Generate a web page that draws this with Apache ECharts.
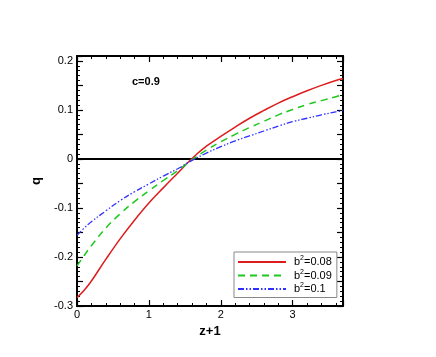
<!DOCTYPE html>
<html>
<head>
<meta charset="utf-8">
<script src="https://cdn.jsdelivr.net/npm/echarts@6/dist/echarts.min.js"></script>
<style>
  html, body { margin: 0; padding: 0; background: #fff; }
  #chart { width: 436px; height: 357px; }
</style>
</head>
<body>
<div id="chart"></div>
<script>
// x values (z+1)
const zValues = [0, 0.1, 0.2, 0.4, 0.6, 0.8, 1.0, 1.2, 1.4, 1.6, 1.8, 2.0, 2.2, 2.4, 2.6, 2.8, 3.0, 3.2, 3.4, 3.6, 3.7];
// q for b^2 = 0.08
const qB008 = [-0.283, -0.268, -0.249, -0.205, -0.163, -0.125, -0.090, -0.059, -0.029, 0.001, 0.026, 0.046, 0.065, 0.083, 0.099, 0.114, 0.127, 0.139, 0.150, 0.160, 0.164];
// q for b^2 = 0.09
const qB009 = [-0.218, -0.197, -0.177, -0.141, -0.112, -0.087, -0.065, -0.044, -0.024, -0.002, 0.018, 0.035, 0.050, 0.064, 0.077, 0.090, 0.101, 0.111, 0.119, 0.127, 0.131];
// q for b^2 = 0.1
const qB010 = [-0.156, -0.141, -0.128, -0.106, -0.085, -0.067, -0.051, -0.035, -0.020, -0.003, 0.012, 0.025, 0.037, 0.047, 0.057, 0.067, 0.076, 0.083, 0.090, 0.096, 0.099];
const seriesNames = ['0.08', '0.09', '0.1'];
const zeroLevel = 0;
const annotation = 'c=0.9';

const font = "'Liberation Sans', Arial, sans-serif";
const pair = (ys) => zValues.map((x, i) => [x, ys[i]]);

const chart = echarts.init(document.getElementById('chart'));

// ticks point into the plot
const mkAxis = (extra) => Object.assign({
  type: 'value',
  axisLine: { show: true, onZero: false, lineStyle: { color: '#000', width: 2 } },
  axisTick: { show: true, inside: true, length: 6, lineStyle: { color: '#000', width: 1.2 } },
  minorTick: { show: true, splitNumber: 5, length: 3, lineStyle: { color: '#000', width: 1 } },
  splitLine: { show: false },
}, extra);

// x labels only on integers, y labels only on multiples of 0.1
const xLabel = (v) => (Math.abs(v - Math.round(v)) < 1e-6 ? String(Math.round(v)) : '');
const yLabel = (v) => (Math.abs(v * 10 - Math.round(v * 10)) < 1e-6 ? String(Math.round(v * 10) / 10) : '');
const labelStyle = { color: '#000', fontFamily: font, fontSize: 11 };
// top / right axes: ticks only
const blankLabel = { formatter: () => '', color: 'transparent' };

const option = {
  animation: false,
  grid: { left: 77, top: 56, right: 93, bottom: 51 },
  title: {
    text: annotation, left: 127, top: 71,
    textStyle: { color: '#000', fontFamily: font, fontSize: 11, fontWeight: 'bold' },
  },
  xAxis: [
    mkAxis({
      min: 0, max: 3.7, interval: 1, position: 'bottom',
      axisLabel: { ...labelStyle, formatter: xLabel, margin: 3 },
      name: 'z+1', nameLocation: 'middle', nameGap: 18,
      nameTextStyle: { color: '#000', fontFamily: font, fontSize: 13, fontWeight: 'bold' },
    }),
    mkAxis({ min: 0, max: 3.7, interval: 1, position: 'top', axisLabel: blankLabel }),
  ],
  yAxis: [
    mkAxis({
      min: -0.3, max: 0.21, interval: 0.05, position: 'left',
      axisLabel: { ...labelStyle, formatter: yLabel, margin: 4 },
      name: 'q', nameLocation: 'middle', nameGap: 24,
      nameTextStyle: { color: '#000', fontFamily: font, fontSize: 13, fontWeight: 'bold' },
    }),
    mkAxis({ min: -0.3, max: 0.21, interval: 0.05, position: 'right', axisLabel: blankLabel }),
  ],
  legend: {
    orient: 'vertical',
    left: 234, top: 252,
    padding: [3, 5, 3, 3],
    itemWidth: 48, itemHeight: 12, itemGap: 1,
    borderColor: '#888', borderWidth: 1, backgroundColor: '#fff',
    data: seriesNames,
    itemStyle: { opacity: 0 },
    formatter: (name) => '{t|b}{s|2}{t|=' + name + '}',
    textStyle: {
      color: '#000', fontFamily: font, fontSize: 11, padding: [0, 0, 0, 3],
      rich: {
        t: { fontFamily: font, fontSize: 11, color: '#000' },
        s: { fontFamily: font, fontSize: 7, color: '#000', padding: [0, 0, 7, 0] },
      },
    },
  },
  series: [
    // 零线 q=0
    {
      name: 'zero', type: 'line', silent: true, symbol: 'none',
      data: [[zValues[0], zeroLevel], [zValues[zValues.length - 1], zeroLevel]],
      lineStyle: { color: '#000', width: 2 },
      z: 2,
    },
    {
      name: seriesNames[0], type: 'line', data: pair(qB008), smooth: 0.4,
      symbol: 'none', color: '#dd1c1c',
      lineStyle: { color: '#dd1c1c', width: 1.5, type: 'solid' },
      z: 3,
    },
    {
      name: seriesNames[1], type: 'line', data: pair(qB009), smooth: 0.4,
      symbol: 'none', color: '#1ec81e',
      lineStyle: { color: '#1ec81e', width: 1.5, type: [7, 5] },
      z: 3,
    },
    {
      name: seriesNames[2], type: 'line', data: pair(qB010), smooth: 0.4,
      symbol: 'none', color: '#3030ff',
      lineStyle: { color: '#3030ff', width: 1.3, type: [6, 2, 1.5, 2, 1.5, 2] },
      z: 3,
    },
  ],
};

chart.setOption(option);
</script>
</body>
</html>
